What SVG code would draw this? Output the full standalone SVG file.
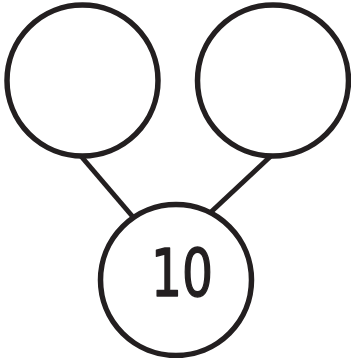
<svg xmlns="http://www.w3.org/2000/svg" width="351" height="358" viewBox="0 0 351 358">
<style>
.n{fill:#fff;stroke:#231f20;stroke-width:5.5}
.c{stroke:#231f20;stroke-width:5;fill:none}
.t{font-family:"DejaVu Sans",sans-serif;font-size:66px;fill:#231f20;stroke:#231f20;stroke-width:1.6;stroke-linejoin:round;text-anchor:middle}
</style>
<rect width="351" height="358" fill="#fff"/>
<g id="connectors">
<line class="c" x1="80" y1="155" x2="133" y2="217"/>
<line class="c" x1="272" y1="155" x2="211" y2="212"/>
</g>
<g id="left"><circle class="n" cx="82.5" cy="80.5" r="75.5"/></g>
<g id="right"><circle class="n" cx="273" cy="80.5" r="75.5"/></g>
<g id="bottom"><circle class="n" cx="176" cy="280" r="75.5"/>
<text class="t" x="182" y="296" textLength="62" lengthAdjust="spacingAndGlyphs">10</text></g>
</svg>
